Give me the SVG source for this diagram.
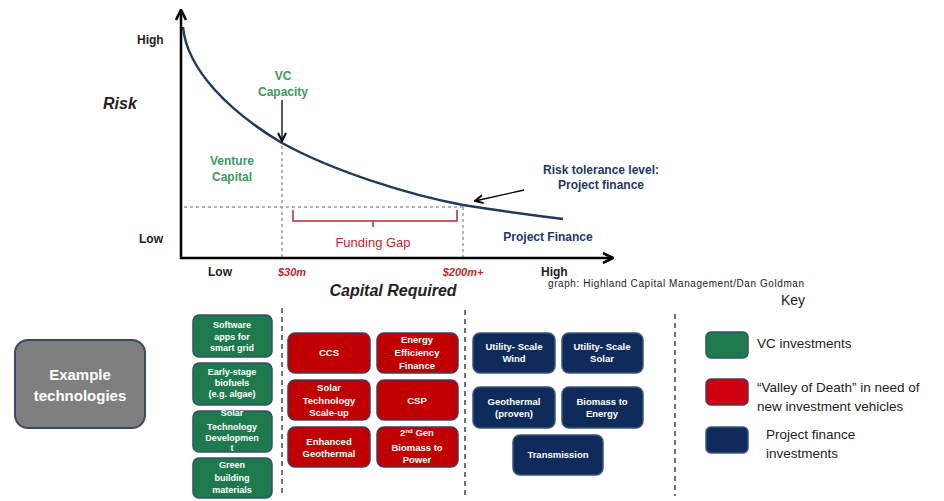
<svg xmlns="http://www.w3.org/2000/svg" width="944" height="501" viewBox="0 0 944 501">
<defs>
<style>
text{font-family:"Liberation Sans",Arial,sans-serif}
.lbl{font-size:12px;font-weight:bold;fill:#222}
.grn{font-size:12px;font-weight:bold;fill:#3a9a5c}
.nav{font-size:12px;font-weight:bold;fill:#1f3864}
.red{font-size:11px;font-weight:bold;font-style:italic;fill:#c0272d}
.bt{font-size:9px;font-weight:bold;fill:#fff;text-anchor:middle}
.bt2{font-size:9.5px;font-weight:bold;fill:#fff;text-anchor:middle}
.key{font-size:13.5px;fill:#222}
.gbox{fill:#1e7a4c;stroke:#34506e;stroke-width:1.5}
.rbox{fill:#c00000;stroke:#4a3a5e;stroke-width:1.5}
.nbox{fill:#0f2b5b;stroke:#3d5675;stroke-width:1.5}
.dash{stroke:#9a9a9a;stroke-width:1.5;stroke-dasharray:3 3;fill:none}
.sep{stroke:#444;stroke-width:1.5;stroke-dasharray:5 4;fill:none}
</style>
<marker id="ah" viewBox="0 0 10 10" refX="9" refY="5" markerWidth="10" markerHeight="10" markerUnits="userSpaceOnUse" orient="auto">
<path d="M1,1 L9,5 L1,9" fill="none" stroke="#000" stroke-width="2"/>
</marker>
<marker id="ax" viewBox="0 0 12 12" refX="11" refY="6" markerWidth="12" markerHeight="12" markerUnits="userSpaceOnUse" orient="auto">
<path d="M1,1 L11,6 L1,11" fill="none" stroke="#000" stroke-width="2.6"/>
</marker>
</defs>
<rect width="944" height="501" fill="#fff"/>

<g id="chart">
<line class="dash" x1="184" y1="207" x2="463" y2="207"/>
<line class="dash" x1="282" y1="146" x2="282" y2="257"/>
<line class="dash" x1="463" y1="207" x2="463" y2="257"/>
<path d="M183,27 C187,70 230,112 282,143 C335,172 410,195 463,205 C495,210 530,215 563,219" fill="none" stroke="#1f3b5c" stroke-width="2.5"/>
<line x1="181" y1="259" x2="181" y2="10" stroke="#000" stroke-width="2.5" marker-end="url(#ax)"/>
<line x1="180" y1="258" x2="613" y2="258" stroke="#000" stroke-width="2.5" marker-end="url(#ax)"/>
<path d="M293,210 V221 H457 V210 M373,221 V227" fill="none" stroke="#c0272d" stroke-width="1.5"/>
<text class="lbl" x="137" y="44">High</text>
<text class="lbl" x="139" y="243">Low</text>
<text x="103" y="109" style="font-size:16px;font-weight:bold;font-style:italic;fill:#222">Risk</text>
<text class="grn" x="283" y="80" text-anchor="middle">VC</text>
<text class="grn" x="283" y="96" text-anchor="middle">Capacity</text>
<text class="grn" x="232" y="165" text-anchor="middle">Venture</text>
<text class="grn" x="232" y="181" text-anchor="middle">Capital</text>
<text class="nav" x="601" y="174" text-anchor="middle">Risk tolerance level:</text>
<text class="nav" x="601" y="189" text-anchor="middle">Project finance</text>
<text class="nav" x="548" y="241" text-anchor="middle">Project Finance</text>
<text x="373" y="247" text-anchor="middle" style="font-size:13px;fill:#c0272d">Funding Gap</text>
<text class="lbl" x="220" y="276" text-anchor="middle">Low</text>
<text class="red" x="292" y="276" text-anchor="middle">$30m</text>
<text class="red" x="463" y="276" text-anchor="middle">$200m+</text>
<text class="lbl" x="541" y="276">High</text>
<text x="393" y="296" text-anchor="middle" style="font-size:16px;font-weight:bold;font-style:italic;fill:#222">Capital Required</text>
<text x="548" y="287" style="font-size:10px;fill:#222" textLength="256">graph: Highland Capital Management/Dan Goldman</text>
</g>

<g id="connectors">
<line x1="282" y1="100" x2="282" y2="141" stroke="#000" stroke-width="1.3" marker-end="url(#ah)"/>
<line x1="524" y1="190" x2="475" y2="201" stroke="#000" stroke-width="1.3" marker-end="url(#ah)"/>
<line class="sep" x1="282" y1="308" x2="282" y2="496"/>
<line class="sep" x1="465" y1="310" x2="465" y2="496"/>
<line class="sep" x1="675" y1="314" x2="675" y2="496"/>
</g>

<g id="example">
<rect x="15" y="340" width="130" height="88" rx="13" fill="#7f7f7f" stroke="#3c4a66" stroke-width="2"/>
<text x="80" y="380" text-anchor="middle" style="font-size:15px;font-weight:bold;fill:#fff">Example</text>
<text x="80" y="401" text-anchor="middle" style="font-size:15px;font-weight:bold;fill:#fff">technologies</text>
</g>

<g id="g1"><rect class="gbox" x="193" y="315" width="79" height="42" rx="6"/>
<text class="bt" x="232" y="328">Software</text><text class="bt" x="232" y="340">apps for</text><text class="bt" x="232" y="351">smart grid</text></g>
<g id="g2"><rect class="gbox" x="193" y="363" width="79" height="42" rx="6"/>
<text class="bt" x="232" y="375">Early-stage</text><text class="bt" x="232" y="386">biofuels</text><text class="bt" x="232" y="397">(e.g. algae)</text></g>
<g id="g3"><rect class="gbox" x="193" y="411" width="79" height="41" rx="6"/>
<text class="bt" x="232" y="416">Solar</text><text class="bt" x="232" y="430">Technology</text><text class="bt" x="232" y="441">Developmen</text><text class="bt" x="232" y="451">t</text></g>
<g id="g4"><rect class="gbox" x="193" y="458" width="79" height="40" rx="6"/>
<text class="bt" x="232" y="468">Green</text><text class="bt" x="232" y="481">building</text><text class="bt" x="232" y="493">materials</text></g>

<g id="r1"><rect class="rbox" x="288" y="333" width="82" height="40" rx="7"/>
<text class="bt2" x="329" y="356">CCS</text></g>
<g id="r2"><rect class="rbox" x="377" y="333" width="81" height="40" rx="7"/>
<text class="bt2" x="417" y="343">Energy</text><text class="bt2" x="417" y="356">Efficiency</text><text class="bt2" x="417" y="369">Finance</text></g>
<g id="r3"><rect class="rbox" x="288" y="380" width="82" height="40" rx="7"/>
<text class="bt2" x="329" y="391">Solar</text><text class="bt2" x="329" y="404">Technology</text><text class="bt2" x="329" y="416">Scale-up</text></g>
<g id="r4"><rect class="rbox" x="377" y="380" width="81" height="40" rx="7"/>
<text class="bt2" x="417" y="404">CSP</text></g>
<g id="r5"><rect class="rbox" x="288" y="427" width="82" height="40" rx="7"/>
<text class="bt2" x="329" y="445">Enhanced</text><text class="bt2" x="329" y="457">Geothermal</text></g>
<g id="r6"><rect class="rbox" x="377" y="427" width="81" height="40" rx="7"/>
<text class="bt2" x="417" y="436">2<tspan style="font-size:6px" dy="-3">nd</tspan><tspan dy="3"> Gen</tspan></text><text class="bt2" x="417" y="451">Biomass to</text><text class="bt2" x="417" y="463">Power</text></g>

<g id="n1"><rect class="nbox" x="473" y="333" width="82" height="40" rx="7"/>
<text class="bt2" x="514" y="350">Utility- Scale</text><text class="bt2" x="514" y="362">Wind</text></g>
<g id="n2"><rect class="nbox" x="562" y="333" width="81" height="40" rx="7"/>
<text class="bt2" x="602" y="350">Utility- Scale</text><text class="bt2" x="602" y="362">Solar</text></g>
<g id="n3"><rect class="nbox" x="473" y="387" width="82" height="41" rx="7"/>
<text class="bt2" x="514" y="405">Geothermal</text><text class="bt2" x="514" y="417">(proven)</text></g>
<g id="n4"><rect class="nbox" x="562" y="387" width="81" height="41" rx="7"/>
<text class="bt2" x="602" y="405">Biomass to</text><text class="bt2" x="602" y="417">Energy</text></g>
<g id="n5"><rect class="nbox" x="513" y="435" width="90" height="40" rx="7"/>
<text class="bt2" x="558" y="458">Transmission</text></g>

<g id="legend">
<text x="793" y="305" text-anchor="middle" style="font-size:14px;fill:#222">Key</text>
<rect x="706" y="332" width="42" height="26" rx="5" fill="#1e7a4c" stroke="#34506e" stroke-width="1.5"/>
<rect x="706" y="379" width="42" height="26" rx="5" fill="#d00010" stroke="#4a3a5e" stroke-width="1.5"/>
<rect x="706" y="427" width="42" height="26" rx="5" fill="#0f2b5b" stroke="#3d5675" stroke-width="1.5"/>
<text class="key" x="757" y="348">VC investments</text>
<text class="key" x="757" y="392">“Valley of Death” in need of</text>
<text class="key" x="757" y="411">new investment vehicles</text>
<text class="key" x="766" y="439">Project finance</text>
<text class="key" x="766" y="458">investments</text>
</g>
</svg>
